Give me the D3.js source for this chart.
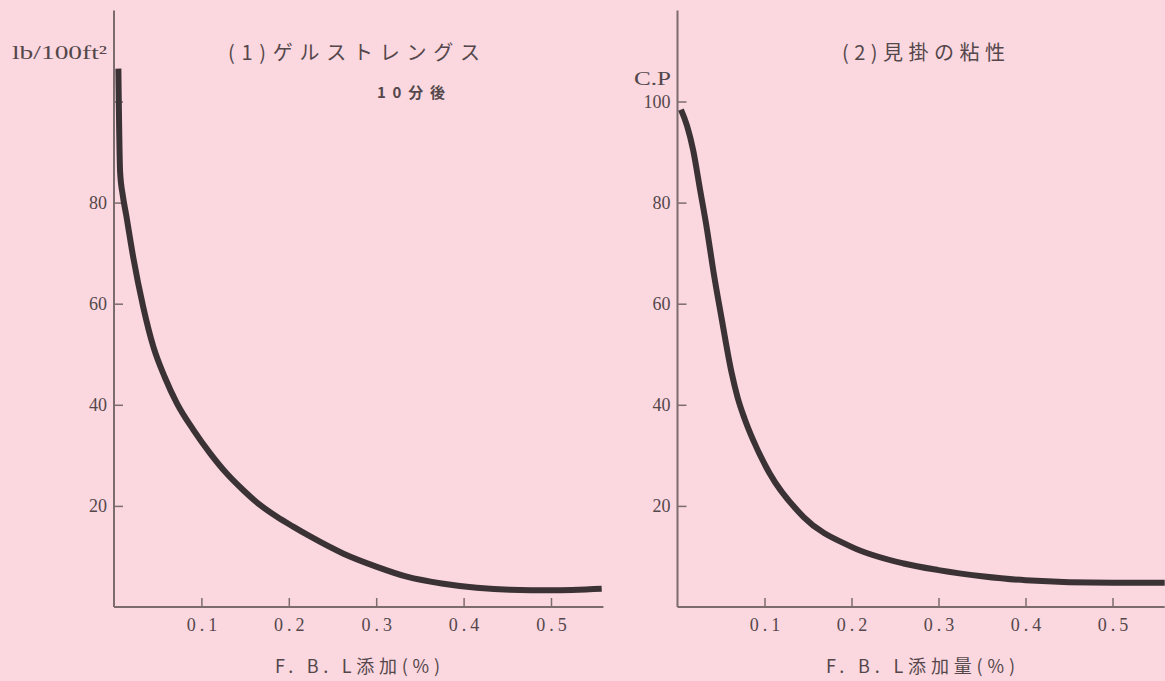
<!DOCTYPE html>
<html>
<head>
<meta charset="utf-8">
<script src="https://cdn.jsdelivr.net/npm/d3@7"></script>
<style>
  body { margin: 0; background: #fbd7df; }
  svg { display: block; }
</style>
</head>
<body>
<div id="chart"></div>
<script>
// tick values shared by both panels
const xTicks = [0.1, 0.2, 0.3, 0.4, 0.5];
const yTicks = [20, 40, 60, 80, 100];

// (1) gel strength, lb/100ft2, after 10 minutes
const gelX = [0.005, 0.007, 0.010, 0.014, 0.022, 0.0335, 0.045, 0.058, 0.072, 0.091, 0.11, 0.129, 0.148, 0.167, 0.186, 0.205, 0.224, 0.262, 0.3, 0.335, 0.377, 0.415, 0.453, 0.5, 0.558];
const gelY = [106.5, 86, 81.5, 77.5, 69.2, 59.3, 51.5, 45.5, 40.3, 35, 30.4, 26.4, 23.1, 20.2, 17.9, 15.9, 14.0, 10.6, 8.0, 6.0, 4.6, 3.8, 3.4, 3.3, 3.6];
const gelYLabels = ["20", "40", "60", "80", ""];

// (2) apparent viscosity, C.P
const visX = [0.004, 0.011, 0.018, 0.026, 0.034, 0.041, 0.051, 0.062, 0.069, 0.077, 0.087, 0.106, 0.145, 0.2, 0.26, 0.3, 0.35, 0.4, 0.5, 0.56];
const visY = [98.4, 95.2, 90.4, 82.5, 74.6, 66.7, 56.8, 46.5, 41.5, 37.3, 33, 26.4, 17.8, 11.9, 8.6, 7.3, 6.1, 5.3, 4.8, 4.8];
const visYLabels = ["20", "40", "60", "80", "100"];

const width = 1165, height = 681;
const axisColor = "#7c6c70";
const textColor = "#54474b";
const lineColor = "#3b3236";
const serif = "'Liberation Serif', 'DejaVu Serif', serif";
const jp = "'Noto Sans CJK JP', sans-serif";

const svg = d3.select("#chart")
  .append("svg")
  .attr("width", width)
  .attr("height", height)
  .style("background", "#fbd7df");

function drawPanel(p) {
  const x = d3.scaleLinear().domain([0, 0.56]).range([p.left, p.left + p.unit * 0.56]);
  const y = d3.scaleLinear().domain([0, 100]).range([607, 101.5]);
  const g = svg.append("g");

  // y axis, ticks pointing inward
  const yAxis = g.append("g")
    .attr("transform", `translate(${p.left},0)`)
    .call(d3.axisLeft(y)
      .tickValues(yTicks)
      .tickSize(-9)
      .tickPadding(7)
      .tickFormat((d, i) => p.yLabels[i]));
  yAxis.select(".domain").remove();
  yAxis.selectAll("line").attr("stroke", axisColor).attr("stroke-width", 1.5);
  yAxis.selectAll("text")
    .attr("fill", textColor)
    .style("font-family", serif)
    .style("font-size", "18px");

  // x axis
  const xAxis = g.append("g")
    .attr("transform", `translate(0,${y(0)})`)
    .call(d3.axisBottom(x)
      .tickValues(xTicks)
      .tickSize(-9)
      .tickPadding(11)
      .tickFormat(d3.format(".1f")));
  xAxis.select(".domain").remove();
  xAxis.selectAll("line").attr("stroke", axisColor).attr("stroke-width", 1.5);
  xAxis.selectAll("text")
    .attr("fill", textColor)
    .attr("dx", "2px")
    .style("font-family", serif)
    .style("font-size", "18px")
    .style("letter-spacing", "4px");

  // axis lines
  g.append("line")
    .attr("x1", x(0)).attr("x2", x(0))
    .attr("y1", y(0)).attr("y2", y(118))
    .attr("stroke", axisColor).attr("stroke-width", 2);
  g.append("line")
    .attr("x1", x(0)).attr("x2", x(0.56))
    .attr("y1", y(0)).attr("y2", y(0))
    .attr("stroke", axisColor).attr("stroke-width", 2);

  const line = d3.line()
    .x(d => x(d[0]))
    .y(d => y(d[1]))
    .curve(d3.curveMonotoneX);

  g.append("path")
    .datum(d3.zip(p.xs, p.ys))
    .attr("d", line)
    .attr("fill", "none")
    .attr("stroke", lineColor)
    .attr("stroke-width", 6)
    .attr("stroke-linejoin", "round");

  // texts
  g.append("text")
    .attr("x", p.unitX).attr("y", p.unitY)
    .attr("text-anchor", "end")
    .attr("fill", textColor)
    .attr("textLength", p.unitLen)
    .attr("lengthAdjust", "spacingAndGlyphs")
    .style("font-family", serif)
    .style("font-size", "19px")
    .text(p.unitText);

  g.append("text")
    .attr("x", p.titleX).attr("y", 60)
    .attr("fill", textColor)
    .attr("textLength", p.titleLen)
    .attr("lengthAdjust", "spacing")
    .style("font-family", jp)
    .style("font-size", "20px")
    .text(p.title);

  g.append("text")
    .attr("x", p.xLabelX).attr("y", 673)
    .attr("fill", textColor)
    .attr("textLength", p.xLabelLen)
    .attr("lengthAdjust", "spacing")
    .style("font-family", jp)
    .style("font-size", "18px")
    .text(p.xLabel);

  return g;
}

drawPanel({
  left: 114, unit: 874,
  xs: gelX, ys: gelY, yLabels: gelYLabels,
  unitText: "lb/100ft²", unitX: 107, unitY: 59, unitLen: 95,
  title: "(1)ゲルストレングス", titleX: 228, titleLen: 252,
  xLabel: "F. B. L添加(%)", xLabelX: 275, xLabelLen: 165
});

drawPanel({
  left: 677.5, unit: 870,
  xs: visX, ys: visY, yLabels: visYLabels,
  unitText: "C.P", unitX: 671, unitY: 85, unitLen: 37,
  title: "(2)見掛の粘性", titleX: 842, titleLen: 163,
  xLabel: "F. B. L添加量(%)", xLabelX: 826, xLabelLen: 189
});

svg.append("text")
  .attr("x", 377).attr("y", 98)
  .attr("fill", textColor)
  .attr("textLength", 68)
  .attr("lengthAdjust", "spacing")
  .style("font-family", jp)
  .style("font-size", "15px")
  .style("font-weight", "bold")
  .text("10分後");
</script>
</body>
</html>
